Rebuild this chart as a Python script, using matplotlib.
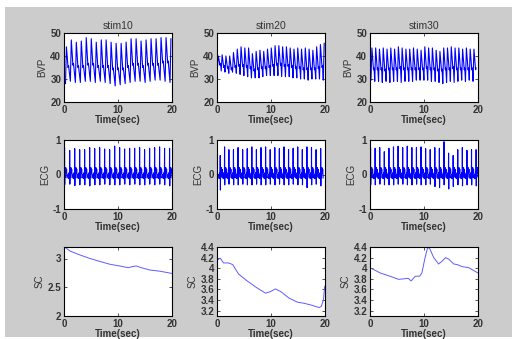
import numpy as np
import matplotlib
matplotlib.use("Agg")
import matplotlib.pyplot as plt
from matplotlib.patches import Rectangle

plt.rcParams['font.family'] = ['Liberation Sans', 'DejaVu Sans']

titles = ["stim10", "stim20", "stim30"]
row_labels = ["BVP", "ECG", "SC"]
xlabel = "Time(sec)"
x_ticks = [0, 10, 20]

# ---------------- BVP: per-beat peak times / peak / trough / notch values ----------------
bvp10_t = [0.45, 1.35, 2.28, 3.2, 4.12, 5.05, 5.97, 6.9, 7.8, 8.72, 9.65, 10.58, 11.5, 12.42,
           13.35, 14.27, 15.2, 16.12, 17.05, 17.97, 18.9, 19.8]
bvp10_pk = [44, 47, 46, 46.5, 48, 47.5, 46, 47, 47, 46, 45.5, 45.5, 46, 47.5, 47.5, 46.5, 47,
            47.5, 47.5, 48, 48, 47.5]
bvp10_tr = [28, 29, 28.5, 28.5, 29, 29, 28.5, 29, 28.5, 28, 27, 27.5, 28, 28.5, 29, 29, 28.5,
            29, 29.5, 29.5, 29, 28.5]
bvp10_nt = [35, 36, 35, 35, 36, 36, 35, 35, 35, 34, 34, 34, 35, 36, 36, 35, 36, 36, 36, 37, 37, 36]

bvp20_t = [0.25, 0.95, 1.65, 2.35, 3.05, 3.75, 4.45, 5.15, 5.85, 6.55, 7.25, 7.95, 8.65, 9.35,
           10.05, 10.75, 11.45, 12.15, 12.85, 13.55, 14.25, 14.95, 15.65, 16.35, 17.05, 17.75,
           18.45, 19.15, 19.85]
bvp20_pk = [40, 40.5, 40, 40, 41.5, 43, 44, 43.5, 43.5, 41, 42, 42.5, 42, 43, 43.5, 44.5, 44.5,
            44, 44, 43.5, 43, 43.5, 43, 43.5, 43, 42.5, 44, 45, 45.5]
bvp20_tr = [35, 33.5, 33, 32.5, 33, 32.5, 32, 31.5, 31, 30.5, 30.5, 30.5, 31, 31.5, 31.5, 31.5,
            31.5, 31, 31, 31, 30.5, 30.5, 30, 30, 29.5, 30, 30, 30, 29.5]
bvp20_nt = [36, 35, 34.5, 34, 35, 35.5, 35.5, 35, 34.5, 33.5, 34, 34.5, 34.5, 35, 35.5, 36, 36,
            35.5, 35.5, 35, 34.5, 34.5, 34, 34, 34, 34, 34.5, 35, 35.5]

bvp30_t = [0.35, 1.05, 1.75, 2.45, 3.15, 3.85, 4.55, 5.25, 5.95, 6.65, 7.35, 8.05, 8.75, 9.45,
           10.15, 10.85, 11.55, 12.25, 12.95, 13.65, 14.35, 15.05, 15.75, 16.45, 17.15, 17.85,
           18.55, 19.25]
bvp30_pk = [43.5, 43.5, 43, 43.5, 43, 43.5, 43, 44, 43.5, 43, 43, 43.5, 43, 42.5, 44, 43.5, 43.5,
            42.5, 42, 43.5, 43.5, 44, 43.5, 43.5, 43, 43.5, 43, 43]
bvp30_tr = [29.5, 29, 29, 28.5, 29, 28.5, 29, 29, 28.5, 29, 29, 29, 29.5, 29.5, 29.5, 29.5, 29,
            29, 28.5, 28, 28.5, 29, 28.5, 29, 29.5, 29, 29.5, 29]
bvp30_nt = [34, 34, 34, 33.5, 34, 34, 34, 34.5, 34, 34, 34, 34, 34, 34, 34.5, 34, 34, 33.5, 33.5,
            34, 34, 34.5, 34, 34, 34, 34, 34, 34]

# ---------------- ECG: per-beat R times / R heights / S depths ----------------
ecg10_t = [0.1, 1.05, 1.98, 2.9, 3.82, 4.75, 5.68, 6.6, 7.52, 8.45, 9.38, 10.3, 11.22, 12.15,
           13.08, 14.0, 14.92, 15.85, 16.78, 17.7, 18.62, 19.55]
ecg10_r = [0.78, 0.7, 0.75, 0.72, 0.72, 0.78, 0.75, 0.78, 0.74, 0.72, 0.82, 0.78, 0.74, 0.76,
           0.76, 0.78, 0.72, 0.76, 0.78, 0.8, 0.76, 0.76]
ecg10_s = [-0.3, -0.28, -0.32, -0.3, -0.3, -0.33, -0.3, -0.3, -0.28, -0.3, -0.3, -0.3, -0.28,
           -0.3, -0.28, -0.3, -0.3, -0.28, -0.3, -0.28, -0.3, -0.33]

ecg20_t = [0.6, 1.4, 2.2, 3.05, 3.9, 4.75, 5.6, 6.45, 7.3, 8.15, 9.0, 9.85, 10.7, 11.55, 12.4,
           13.25, 14.1, 14.95, 15.8, 16.65, 17.5, 18.35, 19.2]
ecg20_r = [0.55, 0.8, 0.72, 0.72, 0.78, 0.72, 0.75, 0.8, 0.72, 0.78, 0.8, 0.72, 0.78, 0.75,
           0.8, 0.72, 0.76, 0.8, 0.72, 0.8, 0.78, 0.72, 0.75]
ecg20_s = [-0.45, -0.3, -0.28, -0.3, -0.3, -0.28, -0.3, -0.3, -0.28, -0.3, -0.3, -0.28, -0.3,
           -0.28, -0.3, -0.3, -0.28, -0.3, -0.3, -0.38, -0.3, -0.28, -0.33]

ecg30_t = [0.1, 0.95, 1.8, 2.65, 3.5, 4.35, 5.2, 6.05, 6.9, 7.75, 8.6, 9.45, 10.3, 11.15, 12.0,
           12.85, 13.7, 14.55, 15.4, 16.25, 17.1, 17.95, 18.8, 19.65]
ecg30_r = [0.78, 0.76, 0.78, 0.66, 0.76, 0.8, 0.82, 0.78, 0.82, 0.78, 0.78, 0.8, 0.75, 0.72,
           0.78, 0.76, 0.95, 0.62, 0.55, 0.72, 0.78, 0.7, 0.72, 0.72]
ecg30_s = [-0.3, -0.3, -0.28, -0.3, -0.3, -0.3, -0.28, -0.28, -0.3, -0.3, -0.28, -0.3, -0.3,
           -0.28, -0.35, -0.38, -0.3, -0.42, -0.35, -0.3, -0.33, -0.3, -0.3, -0.33]

# ---------------- SC: slow skin conductance traces ----------------
sc10_t = [0, 1.1, 3.0, 4.8, 6.6, 8.5, 10.3, 11.9, 12.7, 13.4, 14.3, 15.9, 17.7, 20]
sc10_v = [3.21, 3.13, 3.06, 3.0, 2.95, 2.9, 2.87, 2.84, 2.86, 2.87, 2.84, 2.80, 2.78, 2.74]

sc20_t = [0, 0.6, 1.2, 2.1, 2.9, 4.0, 5.6, 7.4, 9.0, 9.9, 10.8, 11.8, 13.3, 14.9, 16.1, 17.3,
          18.9, 19.3, 19.7, 19.95]
sc20_v = [4.15, 4.19, 4.1, 4.1, 4.07, 3.89, 3.76, 3.63, 3.53, 3.56, 3.61, 3.56, 3.44, 3.36,
          3.34, 3.31, 3.26, 3.28, 3.40, 3.66]

sc30_t = [0, 1.9, 3.7, 5.3, 6.2, 7.1, 7.6, 8.4, 9.2, 9.6, 10.2, 10.7, 11.1, 11.8, 12.7, 13.2,
          14.0, 14.6, 15.5, 16.1, 17.1, 18.3, 20]
sc30_v = [4.01, 3.91, 3.85, 3.79, 3.8, 3.81, 3.76, 3.85, 3.85, 3.91, 4.2, 4.4, 4.36, 4.2, 4.08,
          4.12, 4.2, 4.17, 4.08, 4.07, 4.03, 4.01, 3.91]

bvp_sets = [(bvp10_t, bvp10_pk, bvp10_tr, bvp10_nt),
            (bvp20_t, bvp20_pk, bvp20_tr, bvp20_nt),
            (bvp30_t, bvp30_pk, bvp30_tr, bvp30_nt)]
ecg_sets = [(ecg10_t, ecg10_r, ecg10_s), (ecg20_t, ecg20_r, ecg20_s), (ecg30_t, ecg30_r, ecg30_s)]
sc_sets = [(sc10_t, sc10_v), (sc20_t, sc20_v), (sc30_t, sc30_v)]

ylims = [[(20, 50)] * 3, [(-1, 1)] * 3, [(2, 3.2), (3.1, 4.4), (3.1, 4.4)]]
yticks = [[[20, 30, 40, 50]] * 3, [[-1, 0, 1]] * 3,
          [[2, 2.5, 3], [3.2, 3.4, 3.6, 3.8, 4, 4.2, 4.4], [3.2, 3.4, 3.6, 3.8, 4, 4.2, 4.4]]]


def bvp_wave(tp, pk, tr, nt):
    ts, ys = [], []
    for t, p, r, n in zip(tp, pk, tr, nt):
        ts += [t - 0.17, t, t + 0.3, t + 0.4]
        ys += [r, p, n, n + 0.8]
    ts = np.array(ts); ys = np.array(ys)
    m = (ts >= 0) & (ts <= 20)
    return ts[m], ys[m]


# shape offsets of the ECG complex around each R peak (seconds, value)
ecg_shape_dt = [-0.3, -0.2, -0.12, -0.05, -0.02, 0.0, 0.03, 0.07, 0.14, 0.22, 0.3, 0.38, 0.45]
ecg_shape_v = [0.0, -0.12, 0.05, -0.1, 0.1, None, None, 0.1, -0.08, 0.2, 0.05, 0.15, -0.1]


def ecg_wave(tp, rr, ss):
    ts, ys = [], []
    for t, r, s in zip(tp, rr, ss):
        for dt, v in zip(ecg_shape_dt, ecg_shape_v):
            ts.append(t + dt)
            if dt == 0.0:
                ys.append(r)
            elif dt == 0.03:
                ys.append(s)
            else:
                ys.append(v)
    ts = np.array(ts); ys = np.array(ys)
    o = np.argsort(ts, kind='stable')
    ts, ys = ts[o], ys[o]
    m = (ts >= 0) & (ts <= 20)
    return ts[m], ys[m]


fig = plt.figure(figsize=(5.12, 3.39), dpi=100)
fig.patch.set_facecolor('white')
fig.patches.append(Rectangle((5 / 512, 2 / 339), 507 / 512, 330 / 339, transform=fig.transFigure,
                             facecolor='#cccccc', edgecolor='none', zorder=-10))

lefts = [64 / 512, 217 / 512, 370 / 512]
bottoms = [1 - 102 / 339, 1 - 209 / 339, 1 - 316 / 339]
w = 108 / 512
h = 69 / 339

tick_color = '#333333'
for r in range(3):
    for c in range(3):
        ax = fig.add_axes([lefts[c], bottoms[r], w, h])
        ax.set_facecolor('white')
        if r == 0:
            tt, yy = bvp_wave(*bvp_sets[c])
            ax.plot(tt, yy, color='#0000ff', lw=0.8)
            ax.set_title(titles[c], fontsize=7.5, color='#333333', pad=3)
        elif r == 1:
            tt, yy = ecg_wave(*ecg_sets[c])
            ax.plot(tt, yy, color='#0000ff', lw=0.8)
        else:
            ax.plot(sc_sets[c][0], sc_sets[c][1], color='#5c5cff', lw=0.7)
        ax.set_xlim(0, 20)
        ax.set_ylim(*ylims[r][c])
        ax.set_xticks(x_ticks)
        ax.set_yticks(yticks[r][c])
        ax.set_yticklabels([('%g' % v) for v in yticks[r][c]])
        ax.tick_params(direction='in', length=2, width=0.6, top=True, right=True,
                       labelsize=7, colors=tick_color, pad=2)
        for lab in ax.get_xticklabels() + ax.get_yticklabels():
            lab.set_fontweight('bold')
        ax.set_xlabel(xlabel, fontsize=7, fontweight='bold', color=tick_color, labelpad=0)
        ax.set_ylabel(row_labels[r], fontsize=7, color=tick_color, labelpad=2)
        for sp in ax.spines.values():
            sp.set_linewidth(0.8)
            sp.set_color('black')

fig.savefig('out.png', dpi=100, facecolor=fig.get_facecolor())
